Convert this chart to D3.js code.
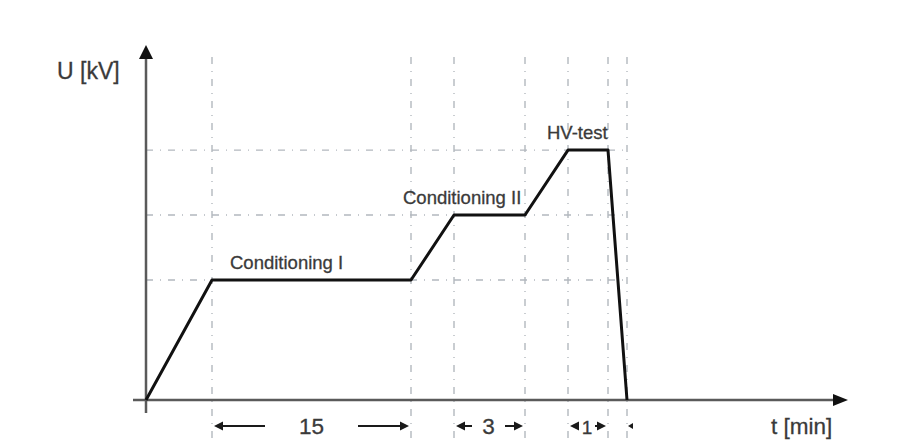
<!DOCTYPE html>
<html><head><meta charset="utf-8">
<script src="https://cdn.jsdelivr.net/npm/d3@7"></script>
<style>body{margin:0;background:#fff}svg{display:block}text{font-family:"Liberation Sans",Arial,sans-serif;fill:#3a3a3a;stroke:#3a3a3a;stroke-width:0.3}</style>
</head><body><svg id="c" width="921" height="446"></svg>
<script>
// Schematic time breakpoints (arbitrary schematic units) and voltage levels
const profileT = [0, 6.6, 26.5, 30.8, 37.9, 42.2, 46.2, 48.1];
const profileU = [0, 33.8, 33.8, 52.1, 52.1, 70.4, 70.4, 0];
const gridT = [6.6, 26.5, 30.8, 37.9, 42.2, 46.2, 48.1];
const gridU = [33.8, 52.1, 70.4];
const phaseLabels = ["Conditioning I", "Conditioning II", "HV-test"];
const phaseLabelT = [8.4, 25.7, 40.1];
const phaseLabelU = [36.9, 55.3, 73.6];
const durLabels = ["15", "3", "1"];
const durStart = [6.6, 30.8, 42.2];
const durEnd = [26.5, 37.9, 46.2];
const axisLabels = ["U [kV]", "t [min]"];

const svg = d3.select("#c");
const x = d3.scaleLinear().domain([0, 70]).range([146, 846]);
const y = d3.scaleLinear().domain([0, 100]).range([400, 45]);

// grid
const gridC = "#b3b8be";
svg.selectAll(".vg").data(gridT).join("line")
  .attr("x1", d => x(d)).attr("x2", d => x(d))
  .attr("y1", 57).attr("y2", 440)
  .attr("stroke", gridC).attr("stroke-width", 1.4).attr("stroke-dasharray", "7,7,1,7");
svg.selectAll(".hg").data(gridU).join("line")
  .attr("x1", x(0)).attr("x2", x(48.1))
  .attr("y1", d => y(d)).attr("y2", d => y(d))
  .attr("stroke", gridC).attr("stroke-width", 1.4).attr("stroke-dasharray", "7,7,1,7");

// axes
const axC = "#5a5a5a";
svg.append("line").attr("x1", x(0)).attr("x2", x(0)).attr("y1", 413).attr("y2", 56)
  .attr("stroke", axC).attr("stroke-width", 2.5);
svg.append("line").attr("x1", 133).attr("x2", 836).attr("y1", y(0)).attr("y2", y(0))
  .attr("stroke", axC).attr("stroke-width", 2.5);
svg.append("path").attr("d", `M${x(0)},45 L${x(0)-7},59 L${x(0)+7},59 Z`).attr("fill", "#111");
svg.append("path").attr("d", `M848,${y(0)} L833,${y(0)-6} L833,${y(0)+6} Z`).attr("fill", "#111");

// profile
const line = d3.line().x(d => x(d[0])).y(d => y(d[1]));
svg.append("path").datum(profileT.map((t, i) => [t, profileU[i]]))
  .attr("d", line).attr("fill", "none").attr("stroke", "#111")
  .attr("stroke-width", 3).attr("stroke-linejoin", "round");

// labels
svg.selectAll(".pl").data(phaseLabels).join("text")
  .attr("x", (d, i) => x(phaseLabelT[i])).attr("y", (d, i) => y(phaseLabelU[i]))
  .attr("font-size", 18.5).text(d => d);
svg.append("text").attr("x", 57).attr("y", 79).attr("font-size", 23).text(axisLabels[0]);
svg.append("text").attr("x", 771).attr("y", 434).attr("font-size", 22.5).text(axisLabels[1]);

// duration dimension arrows
const ay = 426;
function head(xp, dir) {
  svg.append("path").attr("d", `M${xp},${ay} L${xp - dir*9},${ay-4.5} L${xp - dir*9},${ay+4.5} Z`).attr("fill", "#1a1a1a");
}
function shaft(a, b) {
  svg.append("line").attr("x1", a).attr("x2", b).attr("y1", ay).attr("y2", ay)
    .attr("stroke", "#1a1a1a").attr("stroke-width", 2);
}
const gaps = [[265, 358], [472, 505], [579, 595]];
durLabels.forEach((lab, i) => {
  const a = x(durStart[i]) + 2, b = x(durEnd[i]) - 2;
  shaft(a + 4, gaps[i][0]); head(a, -1);
  shaft(gaps[i][1], b - 4); head(b, 1);
  svg.append("text").attr("x", (gaps[i][0] + gaps[i][1]) / 2).attr("y", 434)
    .attr("text-anchor", "middle").attr("font-size", i === 2 ? 19 : 22.5).text(lab);
});
// small head after last line
svg.append("path").attr("d", `M${x(48.1)+1},${ay} L${x(48.1)+6},${ay-3} L${x(48.1)+6},${ay+3} Z`).attr("fill", "#1a1a1a");
</script></body></html>
